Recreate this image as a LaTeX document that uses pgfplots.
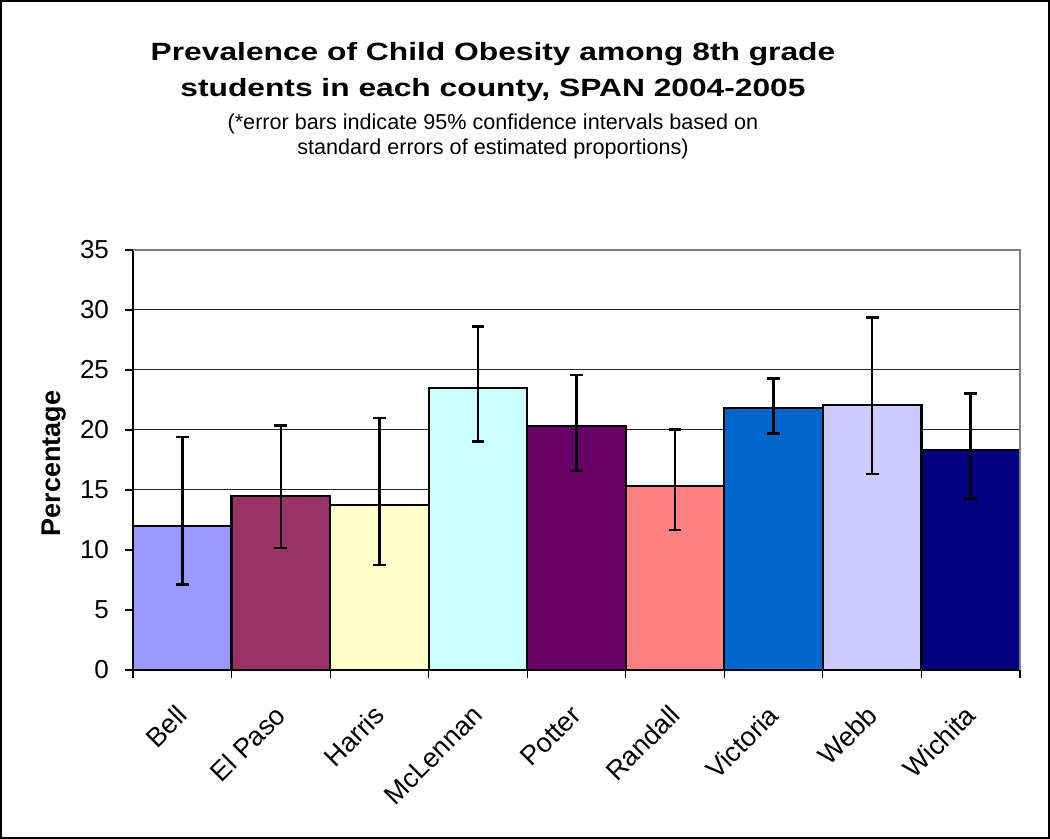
\documentclass[border=0pt]{standalone}
\usepackage{fontspec}
\setmainfont{Liberation Sans}
\usepackage{graphicx}
\usepackage{pgfplots}
\pgfplotsset{compat=1.18}

% classic spreadsheet palette
\definecolor{cBell}{HTML}{9999FF}
\definecolor{cElPaso}{HTML}{993366}
\definecolor{cHarris}{HTML}{FFFFCC}
\definecolor{cMcLennan}{HTML}{CCFFFF}
\definecolor{cPotter}{HTML}{660066}
\definecolor{cRandall}{HTML}{FF8080}
\definecolor{cVictoria}{HTML}{0066CC}
\definecolor{cWebb}{HTML}{CCCCFF}
\definecolor{cWichita}{HTML}{000080}

\pgfplotsset{
  county/.style={
    fill=#1, draw=black, line width=1.1pt,
    error bars/.cd, y dir=both, y explicit,
    error bar style={line width=1.3pt, black},
    error mark options={rotate=90, black, line width=1.3pt, mark size=3.2pt},
  },
}

\begin{document}
\begin{tikzpicture}
\begin{axis}[
    at={(0,0)}, anchor=south west,
    scale only axis, width=443.5pt, height=210pt,
    xmin=-0.5, xmax=8.5,
    ymin=0, ymax=35,
    ytick={0,5,...,35},
    xtick={0,...,8},
    xticklabels={Bell,El Paso,Harris,McLennan,Potter,Randall,Victoria,Webb,Wichita},
    minor xtick={-0.5,0.5,...,8.5},
    x tick style={draw=none},
    minor x tick style={draw=black, line width=0.6pt},
    minor tick length=4pt,
    y tick style={black, line width=0.6pt},
    major tick length=4pt,
    tick align=outside,
    ymajorgrids,
    grid style={black!85, line width=0.5pt},
    axis x line*=bottom, axis y line*=left,
    axis line style={black, line width=0.9pt},
    ybar, bar width=1, bar shift=0pt,
    /pgf/number format/assume math mode=true,
    yticklabel style={font=\fontsize{13}{15}\selectfont, xshift=-4.5pt},
    xticklabel style={font=\fontsize{13.5}{15}\selectfont, rotate=45, anchor=east, xshift=-8pt, yshift=-11.5pt},
    ylabel={\bfseries Percentage},
    ylabel style={font=\fontsize{13.5}{15}\selectfont, at={(axis description cs:-0.089,0.492)}, anchor=center},
    clip=false,
]
\addplot[county=cBell]     coordinates {(0,12.03) += (0,7.37) -= (0,4.89)};
\addplot[county=cElPaso]   coordinates {(1,14.53) += (0,5.83) -= (0,4.36)};
\addplot[county=cHarris]   coordinates {(2,13.75) += (0,7.25) -= (0,5.00)};
\addplot[county=cMcLennan] coordinates {(3,23.53) += (0,5.07) -= (0,4.47)};
\addplot[county=cPotter]   coordinates {(4,20.36) += (0,4.22) -= (0,3.78)};
\addplot[county=cRandall]  coordinates {(5,15.36) += (0,4.70) -= (0,3.69)};
\addplot[county=cVictoria] coordinates {(6,21.86) += (0,2.42) -= (0,2.14)};
\addplot[county=cWebb]     coordinates {(7,22.10) += (0,7.26) -= (0,5.77)};
\addplot[county=cWichita]  coordinates {(8,18.30) += (0,4.76) -= (0,4.02)};
\draw[gray, line width=0.8pt] (rel axis cs:0,1) -- (rel axis cs:1,1) -- (rel axis cs:1,0);
\end{axis}
% chart frame
\draw[black, line width=1.2pt] (-65.9pt,-83.9pt) rectangle (457.9pt,334.4pt);
% titles
\node[anchor=base, font=\bfseries\fontsize{12.5}{15}\selectfont] at (180pt,304.6pt)
  {\scalebox{1.27}[1]{Prevalence of Child Obesity among 8th grade}};
\node[anchor=base, font=\bfseries\fontsize{12.5}{15}\selectfont] at (180pt,286.6pt)
  {\scalebox{1.27}[1]{students in each county, SPAN 2004-2005}};
\node[anchor=base, font=\fontsize{10.8}{12}\selectfont] at (180pt,270pt)
  {(*error bars indicate 95\% confidence intervals based on};
\node[anchor=base, font=\fontsize{10.8}{12}\selectfont] at (180pt,257.5pt)
  {standard errors of estimated proportions)};
\end{tikzpicture}
\end{document}
